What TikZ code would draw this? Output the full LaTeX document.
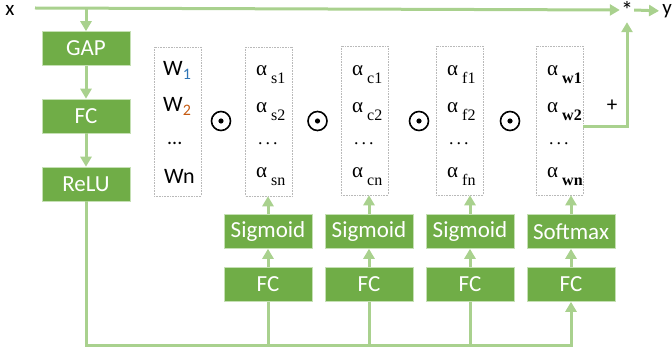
\documentclass[tikz,border=0pt]{standalone}
\usepackage{fontspec}
\setmainfont{Carlito}
\newfontfamily\serifsub{Liberation Serif}
\usetikzlibrary{arrows.meta, positioning, calc}
\definecolor{boxgreen}{RGB}{112, 173, 71}
\definecolor{linegreen}{RGB}{169, 209, 142}
\definecolor{edgegreen}{RGB}{197, 224, 180}
\definecolor{subblue}{RGB}{46, 117, 182}
\definecolor{suborange}{RGB}{197, 90, 17}

\tikzset{
    block/.style={fill=boxgreen, draw=edgegreen, line width=0.6pt, minimum width=88pt, minimum height=34pt,
        inner sep=0pt, text=white, font=\fontsize{23}{26}\selectfont},
    wire/.style={draw=linegreen, line width=3pt},
    arrow/.style={wire, -{Triangle[length=10pt, width=11pt]}},
    vecbox/.style={draw=gray!55, densely dotted, line width=0.6pt, minimum width=47pt, minimum height=149pt, inner sep=0pt},
    wentry/.style={anchor=base west, inner sep=0pt, font=\fontsize{22}{24}\selectfont},
    aentry/.style={anchor=base west, inner sep=0pt, font=\serifsub\fontsize{21}{24}\selectfont},
    hadamard/.style={circle, draw, line width=1.6pt, minimum size=19pt, inner sep=0pt},
    label/.style={inner sep=0pt, font=\fontsize{21}{24}\selectfont}
}

\begin{document}
\begin{tikzpicture}[x=1pt, y=-1pt]
    \useasboundingbox (0,0) rectangle (672,350);

    % ==== Input / output ====
    \node[label] (xin) at (10,10) {x};
    \coordinate (xstart) at (35,8);
    \node[label, minimum width=14pt, minimum height=24pt, font=\fontsize{24}{26}\selectfont] (star) at (627,10) {*};
    \node[label] (yout) at (667,11) {y};

    % ==== Left branch ====
    \node[block] (gap) at (86,48.5) {GAP};
    \node[block] (fc0) at (86,116) {FC};
    \node[block] (relu) at (86,184) {ReLU};

    % ==== Weight vectors ====
    \node[vecbox] (wbox) at (177.5,121.5) {};
    \node[vecbox] (as) at (269,121.5) {};
    \node[vecbox] (ac) at (364.5,120.5) {};
    \node[vecbox] (af) at (459.5,120.5) {};
    \node[vecbox] (aw) at (559.5,120.5) {};

    % W entries
    \node[wentry] (w1) at (163,76) {W\textsubscript{\color{subblue}\fontsize{16}{16}\selectfont 1}};
    \node[wentry] (w2) at (163,112) {W\textsubscript{\color{suborange}\fontsize{16}{16}\selectfont 2}};
    \node[wentry, font=\fontsize{20}{22}\selectfont] (wd) at (167,145) {...};
    \node[wentry] (wn) at (164,183) {Wn};

    % alpha entries (spatial)
    \node[aentry] (as1) at (256,76) {α\hspace{4pt}\raisebox{-8pt}{\fontsize{16}{16}\selectfont s1}};
    \node[aentry] (as2) at (256,113) {α\hspace{4pt}\raisebox{-8pt}{\fontsize{16}{16}\selectfont s2}};
    \node[aentry, font=\serifsub\fontsize{18}{20}\selectfont] (asd) at (258,145) {.\,.\,.};
    \node[aentry] (asn) at (256,178) {α\hspace{4pt}\raisebox{-8pt}{\fontsize{16}{16}\selectfont sn}};

    % alpha entries (channel)
    \node[aentry] (ac1) at (352,76) {α\hspace{4pt}\raisebox{-8pt}{\fontsize{16}{16}\selectfont c1}};
    \node[aentry] (ac2) at (352,113) {α\hspace{4pt}\raisebox{-8pt}{\fontsize{16}{16}\selectfont c2}};
    \node[aentry, font=\serifsub\fontsize{18}{20}\selectfont] (acd) at (354,145) {.\,.\,.};
    \node[aentry] (acn) at (352,178) {α\hspace{4pt}\raisebox{-8pt}{\fontsize{16}{16}\selectfont cn}};

    % alpha entries (filter)
    \node[aentry] (af1) at (447,76) {α\hspace{4pt}\raisebox{-8pt}{\fontsize{16}{16}\selectfont f1}};
    \node[aentry] (af2) at (447,113) {α\hspace{4pt}\raisebox{-8pt}{\fontsize{16}{16}\selectfont f2}};
    \node[aentry, font=\serifsub\fontsize{18}{20}\selectfont] (afd) at (449,145) {.\,.\,.};
    \node[aentry] (afn) at (447,178) {α\hspace{4pt}\raisebox{-8pt}{\fontsize{16}{16}\selectfont fn}};

    % alpha entries (kernel)
    \node[aentry] (aw1) at (547,76) {α\hspace{4pt}\raisebox{-8pt}{\fontsize{16}{16}\selectfont\bfseries w1}};
    \node[aentry] (aw2) at (547,113) {α\hspace{4pt}\raisebox{-8pt}{\fontsize{16}{16}\selectfont\bfseries w2}};
    \node[aentry, font=\serifsub\fontsize{18}{20}\selectfont] (awd) at (549,145) {.\,.\,.};
    \node[aentry] (awn) at (547,178) {α\hspace{4pt}\raisebox{-8pt}{\fontsize{16}{16}\selectfont\bfseries wn}};

    % Element-wise products
    \node[hadamard] (m1) at (221,121) {};
    \node[hadamard] (m2) at (317.5,121) {};
    \node[hadamard] (m3) at (419,121) {};
    \node[hadamard] (m4) at (510,121) {};
    \fill (m1) circle (2.6);
    \fill (m2) circle (2.6);
    \fill (m3) circle (2.6);
    \fill (m4) circle (2.6);

    % ==== Attention heads ====
    \node[block] (sigs) at (268,231.5) {Sigmoid};
    \node[block] (sigc) at (369,231.5) {Sigmoid};
    \node[block] (sigf) at (470,231.5) {Sigmoid};
    \node[block] (soft) at (571,231.5) {Softmax};
    \node[block] (fcs) at (268,284.5) {FC};
    \node[block] (fcc) at (369,284.5) {FC};
    \node[block] (fcf) at (470,284.5) {FC};
    \node[block] (fcw) at (571,284.5) {FC};

    \node[label] (plus) at (612,106) {+};

    % ==== Connections ====
    \draw[arrow] (xstart) -- (star.west);
    \draw[arrow] (gap.north |- xstart) -- (gap.north);
    \draw[arrow] (gap) -- (fc0);
    \draw[arrow] (fc0) -- (relu);

    % shared bus from ReLU
    \coordinate (bus) at (86,345);
    \draw[arrow] (relu.south) -- (bus) -| (fcw.south);
    \draw[wire] (fcs.south) -- (fcs.south |- bus);
    \draw[wire] (fcc.south) -- (fcc.south |- bus);
    \draw[wire] (fcf.south) -- (fcf.south |- bus);

    \draw[arrow] (fcs) -- (sigs);
    \draw[arrow] (fcc) -- (sigc);
    \draw[arrow] (fcf) -- (sigf);
    \draw[arrow] (fcw) -- (soft);
    \draw[arrow] (sigs.north) -- (sigs.north |- as.south);
    \draw[arrow] (sigc.north) -- (sigc.north |- ac.south);
    \draw[arrow] (sigf.north) -- (sigf.north |- af.south);
    \draw[arrow] (soft.north) -- (soft.north |- aw.south);

    % residual product
    \draw[arrow] ([yshift=-6.5pt]aw.east) -| (star.south);
    \draw[arrow, shorten >=3pt] (star.east) -- (yout.west);
\end{tikzpicture}
\end{document}
